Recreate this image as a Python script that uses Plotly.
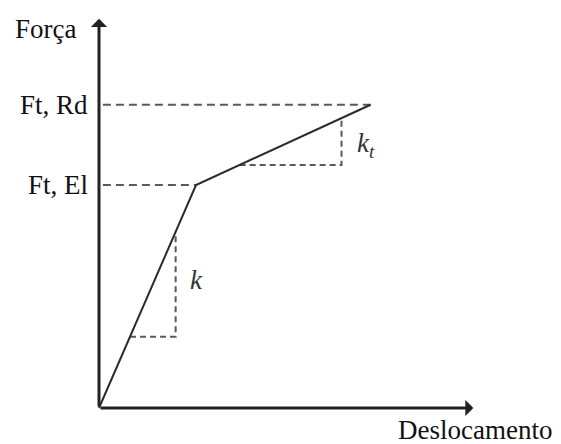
import plotly.graph_objects as go

# Bilinear force-displacement law (normalised units)
deslocamento = [0.0, 1.0, 2.8]      # origin, elastic limit, design resistance
forca = [0.0, 1.0, 1.36]

# Slope triangles (horizontal leg start, corner, top on the curve)
k_tri_x = [0.32, 0.79, 0.79]
k_tri_y = [0.32, 0.32, 0.79]
kt_tri_x = [1.45, 2.50, 2.50]
kt_tri_y = [1.09, 1.09, 1.30]

force_labels = ["Ft, Rd", "Ft, El"]
force_levels = [forca[2], forca[1]]

axis_x_end = 3.86
axis_y_end = 1.745

W, H = 561, 444
# pixel scale of the drawing area
px_x, px_y = 97.0, 223.0
x0_px, y0_px = 99.0, 408.0
x_range = [-x0_px / px_x, (W - x0_px) / px_x]
y_range = [(y0_px - H) / px_y, y0_px / px_y]

dark = "#2b2b2b"
dash_col = "#5a5a5a"
serif = "Liberation Serif, Times New Roman, serif"

fig = go.Figure()

# dashed guide lines to the force axis
for lvl, xe in zip(force_levels, [deslocamento[2], deslocamento[1]]):
    fig.add_trace(go.Scatter(x=[0.04, xe], y=[lvl, lvl], mode="lines",
                             line=dict(color=dash_col, width=2, dash="8px,5px"),
                             hoverinfo="skip", showlegend=False))

# slope triangles
for tx, ty in [(k_tri_x, k_tri_y), (kt_tri_x, kt_tri_y)]:
    fig.add_trace(go.Scatter(x=tx, y=ty, mode="lines",
                             line=dict(color=dash_col, width=2, dash="6px,4px"),
                             hoverinfo="skip", showlegend=False))

# force-displacement curve
fig.add_trace(go.Scatter(x=deslocamento, y=forca, mode="lines",
                         line=dict(color=dark, width=2),
                         hoverinfo="skip", showlegend=False))

annotations = []
# axes drawn as arrows from the origin
for tip_x, tip_y in [(axis_x_end, 0), (0, axis_y_end)]:
    annotations.append(dict(x=tip_x, y=tip_y, ax=0, ay=0, xref="x", yref="y",
                            axref="x", ayref="y", showarrow=True, arrowhead=1,
                            arrowsize=0.9, arrowwidth=3, arrowcolor="#222222",
                            text=""))

lab_font = dict(family=serif, size=27, color="#111111")
for txt, lvl in zip(force_labels, force_levels):
    annotations.append(dict(x=-0.09, y=lvl, text=txt, showarrow=False,
                            xanchor="right", yanchor="middle", font=lab_font))
annotations.append(dict(x=-0.22, y=1.70, text="Força", showarrow=False,
                        xanchor="right", yanchor="middle", font=lab_font))
annotations.append(dict(x=3.88, y=-0.099, text="Deslocamento", showarrow=False,
                        xanchor="center", yanchor="middle", font=lab_font))

k_font = dict(family=serif, size=27, color="#333333")
annotations.append(dict(x=1.01, y=0.575, text="<i>k</i>", showarrow=False,
                        xanchor="center", yanchor="middle", font=k_font))
annotations.append(dict(x=2.75, y=1.18, text="<i>k</i><sub><i>t</i></sub>",
                        showarrow=False, xanchor="center", yanchor="middle",
                        font=k_font))

fig.update_layout(
    width=W, height=H,
    margin=dict(l=0, r=0, t=0, b=0),
    paper_bgcolor="white", plot_bgcolor="white",
    xaxis=dict(range=x_range, visible=False, fixedrange=True),
    yaxis=dict(range=y_range, visible=False, fixedrange=True),
    annotations=annotations,
    showlegend=False,
)

fig.write_html("out.html")
